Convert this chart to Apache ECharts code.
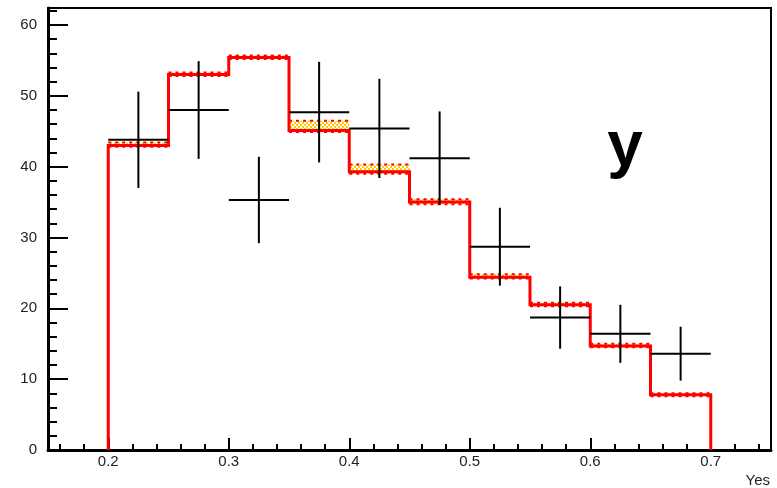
<!DOCTYPE html>
<html>
<head>
<meta charset="utf-8">
<script src="https://cdn.jsdelivr.net/npm/echarts@6/dist/echarts.min.js"></script>
<style>
  html, body { margin: 0; padding: 0; background: #fff; }
  #chart { width: 777px; height: 488px; }
</style>
</head>
<body>
<div id="chart"></div>
<script>
// Histogram bins (edges) and the predicted yield per bin
const binEdges = [0.2, 0.25, 0.3, 0.35, 0.4, 0.45, 0.5, 0.55, 0.6, 0.65, 0.7];
const predicted = [43.0, 53.0, 55.4, 45.1, 39.3, 35.0, 24.4, 20.5, 14.7, 7.8];
// Uncertainty band around the prediction
const bandLow = [42.8, 52.8, 55.2, 44.9, 39.0, 34.7, 24.2, 20.3, 14.5, 7.6];
const bandHigh = [43.4, 53.3, 55.7, 46.5, 40.3, 35.4, 24.8, 20.8, 15.0, 8.0];
// Observed points with their errors
const dataCenters = [0.225, 0.275, 0.325, 0.375, 0.425, 0.475, 0.525, 0.575, 0.625, 0.675];
const dataValues = [43.8, 48.0, 35.3, 47.7, 45.4, 41.2, 28.7, 18.7, 16.4, 13.6];
const dataErrors = [6.8, 6.9, 6.1, 7.1, 7.0, 6.6, 5.5, 4.4, 4.1, 3.8];
// Axis ticks
const xMajorTicks = [0.2, 0.3, 0.4, 0.5, 0.6, 0.7];
const xMinorTicks = [0.16, 0.18, 0.22, 0.24, 0.26, 0.28, 0.32, 0.34, 0.36, 0.38,
                     0.42, 0.44, 0.46, 0.48, 0.52, 0.54, 0.56, 0.58,
                     0.62, 0.64, 0.66, 0.68, 0.72, 0.74];
const yMajorTicks = [0, 10, 20, 30, 40, 50, 60];
const yMinorTicks = [2, 4, 6, 8, 12, 14, 16, 18, 22, 24, 26, 28, 32, 34, 36, 38,
                     42, 44, 46, 48, 52, 54, 56, 58, 62];

const X_MIN = 0.15, X_MAX = 0.75, Y_MIN = 0, Y_MAX = 62.4;
const FONT = '"Liberation Sans", Arial, Helvetica, sans-serif';

// Yellow checker hatch for the band
const hatch = (function () {
  const c = document.createElement('canvas');
  c.width = 4; c.height = 4;
  const ctx = c.getContext('2d');
  ctx.fillStyle = '#ffcc00';
  ctx.fillRect(0, 0, 2, 2);
  ctx.fillRect(2, 2, 2, 2);
  return { image: c, repeat: 'repeat' };
})();

const bandData = predicted.map((v, i) => [binEdges[i], binEdges[i + 1], bandLow[i], bandHigh[i]]);

// Step outline of the histogram
const stepData = [[binEdges[0], 0]];
predicted.forEach((v, i) => {
  stepData.push([binEdges[i], v]);
  stepData.push([binEdges[i + 1], v]);
});
stepData.push([binEdges[binEdges.length - 1], 0]);

const pointData = dataValues.map((v, i) => [dataCenters[i], v, dataErrors[i], (binEdges[i + 1] - binEdges[i]) / 2]);

const chart = echarts.init(document.getElementById('chart'), null, { renderer: 'canvas' });

const axisCommon = {
  type: 'value',
  splitLine: { show: false },
  axisLine: { onZero: false }
};

chart.setOption({
  animation: false,
  backgroundColor: '#fff',
  grid: {
    left: 48, right: 6, top: 8, bottom: 38,
    show: true, borderColor: '#000', borderWidth: 2, backgroundColor: 'transparent'
  },
  xAxis: [
    Object.assign({}, axisCommon, {
      min: X_MIN, max: X_MAX, position: 'bottom',
      axisLine: { show: true, onZero: false, lineStyle: { color: '#000', width: 3 } },
      axisTick: { show: true, inside: true, length: 12, customValues: xMajorTicks, lineStyle: { color: '#000', width: 2 } },
      axisLabel: {
        customValues: xMajorTicks, margin: 4, fontSize: 15, color: '#222', fontFamily: FONT,
        formatter: v => v.toFixed(1)
      }
    }),
    Object.assign({}, axisCommon, {
      min: X_MIN, max: X_MAX, position: 'bottom',
      axisLine: { show: false, onZero: false },
      axisTick: { show: true, inside: true, length: 6, customValues: xMinorTicks, lineStyle: { color: '#000', width: 2 } },
      axisLabel: { show: false }
    })
  ],
  yAxis: [
    Object.assign({}, axisCommon, {
      min: Y_MIN, max: Y_MAX, position: 'left',
      axisLine: { show: true, onZero: false, lineStyle: { color: '#000', width: 3 } },
      axisTick: { show: true, inside: true, length: 20, customValues: yMajorTicks, lineStyle: { color: '#000', width: 2 } },
      axisLabel: { customValues: yMajorTicks, margin: 11, fontSize: 15, color: '#222', fontFamily: FONT }
    }),
    Object.assign({}, axisCommon, {
      min: Y_MIN, max: Y_MAX, position: 'left',
      axisLine: { show: false, onZero: false },
      axisTick: { show: true, inside: true, length: 9, customValues: yMinorTicks, lineStyle: { color: '#000', width: 2 } },
      axisLabel: { show: false }
    })
  ],
  graphic: [
    {
      type: 'text', x: 770, y: 481,
      style: { text: 'Yes', font: '15px ' + FONT, fill: '#222', textAlign: 'right', textVerticalAlign: 'middle' }
    },
    {
      type: 'text', x: 625, y: 148,
      style: { text: 'y', font: 'bold 64px ' + FONT, fill: '#000', textAlign: 'center', textVerticalAlign: 'middle' }
    }
  ],
  series: [
    {
      name: 'band', type: 'custom', xAxisIndex: 0, yAxisIndex: 0, z: 2,
      data: bandData,
      renderItem: function (params, api) {
        const p0 = api.coord([api.value(0), api.value(3)]);
        const p1 = api.coord([api.value(1), api.value(2)]);
        const dash = { stroke: '#ff0000', lineWidth: 2, lineDash: [3, 4] };
        return {
          type: 'group',
          children: [
            { type: 'rect', shape: { x: p0[0], y: p0[1], width: p1[0] - p0[0], height: p1[1] - p0[1] }, style: { fill: hatch } },
            { type: 'line', shape: { x1: p0[0], y1: p0[1], x2: p1[0], y2: p0[1] }, style: dash },
            { type: 'line', shape: { x1: p0[0], y1: p1[1], x2: p1[0], y2: p1[1] }, style: dash }
          ]
        };
      }
    },
    {
      name: 'prediction', type: 'line', xAxisIndex: 0, yAxisIndex: 0, z: 3,
      data: stepData, symbol: 'none',
      lineStyle: { color: '#ff0000', width: 3, join: 'miter' }
    },
    {
      name: 'data', type: 'custom', xAxisIndex: 0, yAxisIndex: 0, z: 4,
      data: pointData,
      renderItem: function (params, api) {
        const x = api.value(0), y = api.value(1), e = api.value(2), hw = api.value(3);
        const left = api.coord([x - hw, y]);
        const right = api.coord([x + hw, y]);
        const top = api.coord([x, y + e]);
        const bot = api.coord([x, y - e]);
        const st = { stroke: '#000', lineWidth: 2 };
        return {
          type: 'group',
          children: [
            { type: 'line', shape: { x1: left[0], y1: left[1], x2: right[0], y2: right[1] }, style: st },
            { type: 'line', shape: { x1: top[0], y1: top[1], x2: bot[0], y2: bot[1] }, style: st }
          ]
        };
      }
    }
  ]
});
</script>
</body>
</html>
